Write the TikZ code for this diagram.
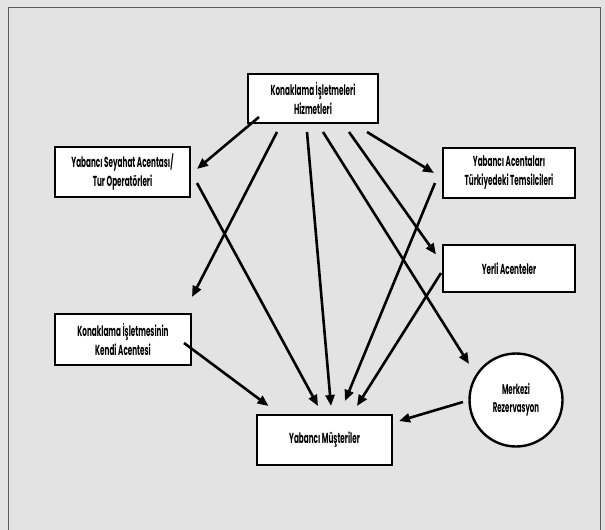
\documentclass[tikz,border=0pt]{standalone}
\usepackage{fontspec}
\newfontfamily\labfont{Poppins}[FakeStretch=0.5]
\usetikzlibrary{calc,arrows.meta}
\definecolor{bgc}{gray}{0.89}
\tikzset{
  box/.style={draw=black, line width=2.4pt, fill=white, minimum width=#1, inner sep=0pt, align=center,
    font=\labfont\bfseries\fontsize{14.5}{19}\selectfont},
  conn/.style={line width=2.6pt, -{Triangle[length=11pt,width=9pt]}},
}
\begin{document}
\begin{tikzpicture}[x=1pt,y=-1pt]
\useasboundingbox (0,0) rectangle (605,530);
\fill[bgc] (0,0) rectangle (605,530);
\draw[gray!70!black, line width=0.8pt] (8,530) -- (8,7) -- (600,7) -- (600,530);

\node[box=130pt, minimum height=49pt] (top) at (313,98.5) {Konaklama İşletmeleri\\Hizmetleri};
\node[box=135pt, minimum height=50pt] (sey) at (122.5,172) {Yabancı Seyahat Acentası/\\Tur Operatörleri};
\node[box=132pt, minimum height=50pt] (yac) at (509,173) {Yabancı Acentaları\\Türkiyedeki Temsilcileri};
\node[box=132pt, minimum height=47pt] (yer) at (509,268.5) {Yerli Acenteler};
\node[box=136pt, minimum height=51pt] (ken) at (123,339.5) {Konaklama İşletmesinin\\Kendi Acentesi};
\node[box=135pt, minimum height=50pt] (mus) at (324.5,440) {Yabancı Müşteriler};
\node[draw=black, line width=2.4pt, fill=white, circle, minimum size=93pt, inner sep=0pt, align=center,
  font=\labfont\bfseries\fontsize{14}{18}\selectfont] (mrk) at (516,400) {Merkezi\\Rezervasyon};

\draw[conn] ($(top)+(-54,18.5)$) -- ($(sey)+(74.5,-3)$);
\draw[conn] ($(top)+(-36,33.5)$) -- ($(ken)+(69,-42.5)$);
\draw[conn] ($(top)+(-6,33.5)$) -- ($(mus)+(6.5,-34)$);
\draw[conn] ($(top)+(10,33.5)$) -- ($(mrk)+(-47,-36)$);
\draw[conn] ($(top)+(36,33.5)$) -- ($(yer)+(-73,-14)$);
\draw[conn] ($(top)+(54,33.5)$) -- ($(yac)+(-75,0)$);
\draw[conn] ($(sey)+(74.5,11)$) -- ($(mus)+(-6.5,-34)$);
\draw[conn] ($(yac)+(-74,10)$) -- ($(mus)+(20.5,-39)$);
\draw[conn] ($(yer)+(-68,4.5)$) -- ($(mus)+(32.5,-34)$);
\draw[conn] ($(ken)+(61,3.5)$) -- ($(mus)+(-56,-34)$);
\draw[conn] ($(mrk)+(-53,2)$) -- ($(mus)+(74.5,-19)$);
\end{tikzpicture}
\end{document}
